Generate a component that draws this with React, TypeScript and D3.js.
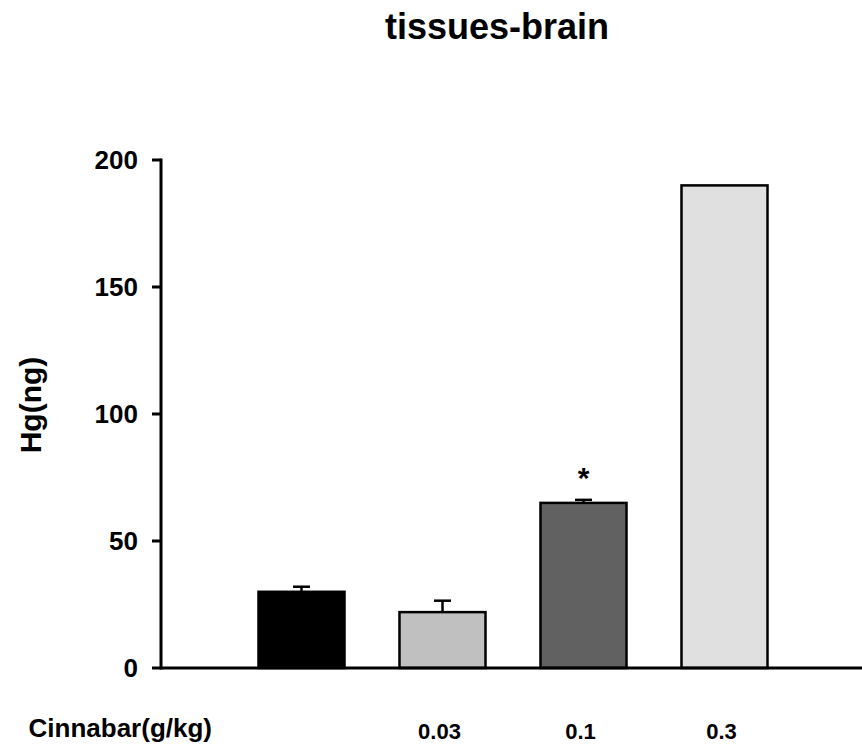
import React from "react";
import * as d3 from "d3";

const categories = ["control", "0.03", "0.1", "0.3"];
const tickLabels = ["", "0.03", "0.1", "0.3"];
const values = [30, 22, 65, 190];
const errors = [2, 4.5, 1.2, 0];
const colors = ["#000000", "#c0c0c0", "#616161", "#e0e0e0"];
const significance = ["", "", "*", ""];
const yTicks = [0, 50, 100, 150, 200];

const W = 862;
const H = 745;
const font = "'Liberation Sans', Arial, sans-serif";

export default function App() {
  const y = d3.scaleLinear().domain([0, 200]).range([668, 160]);
  const x = d3
    .scaleBand<string>()
    .domain(categories)
    .range([231, 795])
    .paddingInner(0.39)
    .paddingOuter(0.195);
  const axisX = 161;
  const bw = x.bandwidth();
  return (
    <svg
      width={W}
      height={H}
      style={{ position: "absolute", left: 0, top: 0, background: "#fff" }}
      fontFamily={font}
      fontWeight="bold"
    >
      <text x={497} y={39} textAnchor="middle" fontSize={36}>
        tissues-brain
      </text>
      {categories.map((c, i) => {
        const x0 = x(c)!;
        const cx = x0 + bw / 2;
        return (
          <g key={c}>
            {errors[i] > 0 && (
              <g stroke="#000" strokeWidth={2.5}>
                <line x1={cx} x2={cx} y1={y(values[i])} y2={y(values[i] + errors[i])} />
                <line x1={cx - 8.5} x2={cx + 8.5} y1={y(values[i] + errors[i])} y2={y(values[i] + errors[i])} />
              </g>
            )}
            <rect
              x={x0}
              y={y(values[i])}
              width={bw}
              height={y(0) - y(values[i])}
              fill={colors[i]}
              stroke="#000"
              strokeWidth={2.5}
            />
            {significance[i] && (
              <text x={cx} y={y(values[i] + errors[i]) - 12} textAnchor="middle" fontSize={30}>
                {significance[i]}
              </text>
            )}
            {tickLabels[i] && (
              <text x={cx - 3} y={739} textAnchor="middle" fontSize={22}>
                {tickLabels[i]}
              </text>
            )}
          </g>
        );
      })}
      <text x={212} y={737} textAnchor="end" fontSize={26}>
        Cinnabar(g/kg)
      </text>
      {yTicks.map((t) => (
        <g key={t}>
          <line x1={axisX - 9} x2={axisX} y1={y(t)} y2={y(t)} stroke="#000" strokeWidth={3} />
          <text x={138} y={y(t)} dy="0.36em" textAnchor="end" fontSize={26}>
            {t}
          </text>
        </g>
      ))}
      <line x1={axisX} x2={axisX} y1={y(200) - 1.5} y2={y(0) + 1.5} stroke="#000" strokeWidth={3} />
      <line x1={axisX} x2={W} y1={y(0)} y2={y(0)} stroke="#000" strokeWidth={3} />
      <text
        transform={`translate(41,405) rotate(-90)`}
        textAnchor="middle"
        fontSize={30}
      >
        Hg(ng)
      </text>
    </svg>
  );
}
